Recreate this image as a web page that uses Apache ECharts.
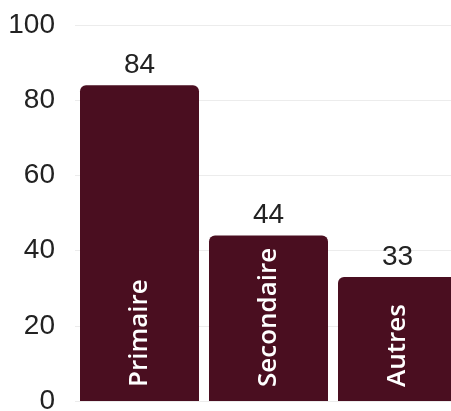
<!DOCTYPE html>
<html>
<head>
<meta charset="utf-8">
<script src="https://cdn.jsdelivr.net/npm/echarts@6/dist/echarts.min.js"></script>
<style>
html,body{margin:0;padding:0;overflow:hidden;background:#fff;width:451px;height:411px;}
#chart{width:462px;height:411px;}
</style>
</head>
<body>
<div id="chart"></div>
<script>
const categories = ['Primaire', 'Secondaire', 'Autres'];
const values = [84, 44, 33];
const yTicks = [0, 20, 40, 60, 80, 100];

const chart = echarts.init(document.getElementById('chart'), null, {renderer: 'canvas'});
chart.setOption({
  animation: false,
  grid: {left: 75, right: 0, top: 25, bottom: 10, containLabel: false, outerBoundsMode: 'none'},
  xAxis: {
    type: 'category',
    data: categories,
    axisLine: {show: false},
    axisTick: {show: false},
    axisLabel: {show: false}
  },
  yAxis: {
    type: 'value',
    min: yTicks[0],
    max: yTicks[yTicks.length - 1],
    interval: 20,
    axisLine: {show: false},
    axisTick: {show: false},
    axisLabel: {
      margin: 20,
      color: '#222',
      fontSize: 28,
      fontFamily: 'Liberation Sans, Arial, sans-serif'
    },
    splitLine: {lineStyle: {color: '#ececec', width: 1}}
  },
  series: [
    {
      type: 'bar',
      data: values,
      barWidth: 119,
      itemStyle: {color: '#4a0e20', borderRadius: [6, 6, 0, 0]},
      label: {
        show: true,
        position: 'insideBottom',
        rotate: 90,
        align: 'left',
        verticalAlign: 'middle',
        distance: 14,
        formatter: p => p.name,
        color: '#fff',
        fontSize: 26,
        fontWeight: 600,
        fontFamily: 'Open Sans, Noto Sans, sans-serif'
      }
    },
    {
      type: 'bar',
      data: values,
      barWidth: 119,
      barGap: '-100%',
      itemStyle: {color: 'rgba(0,0,0,0)'},
      label: {
        show: true,
        position: 'top',
        distance: 6,
        color: '#222',
        fontSize: 28,
        fontFamily: 'Liberation Sans, Arial, sans-serif'
      },
      silent: true
    }
  ]
});
</script>
</body>
</html>
